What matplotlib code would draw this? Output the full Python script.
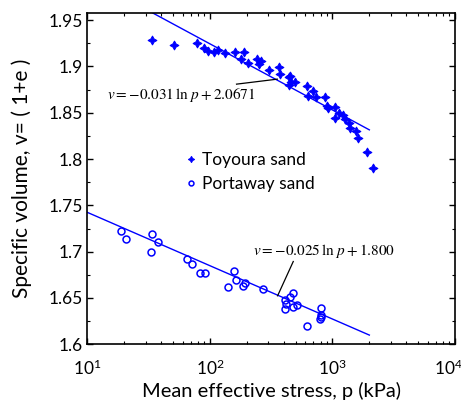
import numpy as np
import matplotlib
matplotlib.use("Agg")
import matplotlib.pyplot as plt
import matplotlib.transforms as mtransforms
from matplotlib.ticker import MultipleLocator, LogLocator, NullFormatter

plt.rcParams['font.family'] = ['Lato', 'DejaVu Sans']

# Toyoura sand: mean effective stress p (kPa), specific volume v
toy_p = [33.5, 50.7, 78, 89.5, 96.6, 108.7, 117, 132, 160, 179.6, 191, 206, 241, 253, 260,
         302, 366, 371, 439, 450, 439, 459, 494, 615, 635, 693, 733, 869, 907, 919, 1054,
         1054, 1136, 1210, 1271, 1355, 1390, 1556, 1624, 1910, 2151]
toy_v = [1.928, 1.923, 1.925, 1.920, 1.917, 1.915, 1.918, 1.9145, 1.916, 1.908, 1.915, 1.904,
         1.908, 1.9025, 1.906, 1.896, 1.899, 1.892, 1.888, 1.8894, 1.880, 1.883, 1.8832, 1.879,
         1.868, 1.8732, 1.867, 1.8667, 1.8577, 1.855, 1.856, 1.8444, 1.8495, 1.8476, 1.8437,
         1.8387, 1.8333, 1.8307, 1.8232, 1.808, 1.7908]

# Portaway sand
port_p = [18.9, 20.8, 33.7, 33.1, 37.5, 65.5, 71.5, 83.6, 90.7, 139.7, 157, 164, 185, 193,
          270, 412, 418, 412, 453, 479, 476, 513, 619, 811, 802, 795, 810]
port_v = [1.7225, 1.7136, 1.7196, 1.700, 1.710, 1.6923, 1.6862, 1.6765, 1.6765, 1.662, 1.6794,
          1.6689, 1.6629, 1.6661, 1.6592, 1.648, 1.6434, 1.638, 1.6506, 1.6553, 1.6408, 1.6419,
          1.6200, 1.6387, 1.6319, 1.6268, 1.630]

# fitted lines v = a ln p + b
toy_fit = (-0.031, 2.0671)
port_fit = (-0.025, 1.800)
toy_range = [30, 2000]
port_range = [10, 2000]

x_ticks = [10, 100, 1000, 10000]
x_labels = [r'$\mathdefault{10^{1}}$', r'$\mathdefault{10^{2}}$',
            r'$\mathdefault{10^{3}}$', r'$\mathdefault{10^{4}}$']
y_ticks = [1.6, 1.65, 1.7, 1.75, 1.8, 1.85, 1.9, 1.95]
y_labels = ['1.6', '1.65', '1.7', '1.75', '1.8', '1.85', '1.9', '1.95']

fig = plt.figure(figsize=(4.61, 4.07), dpi=100)
ax = fig.add_axes([0.1894, 0.154, 0.7976, 0.815])

blue = '#0000ff'
pt = np.geomspace(toy_range[0], toy_range[1], 100)
ax.plot(pt, toy_fit[0] * np.log(pt) + toy_fit[1], color=blue, lw=1.0)
pp = np.geomspace(port_range[0], port_range[1], 100)
ax.plot(pp, port_fit[0] * np.log(pp) + port_fit[1], color=blue, lw=1.0)

ax.plot(toy_p, toy_v, linestyle='none', marker=(4, 1, 0), markersize=6.5, color=blue,
        markeredgewidth=0.7, label='Toyoura sand')
ax.plot(port_p, port_v, linestyle='none', marker='o', markersize=5, markerfacecolor='none',
        markeredgecolor=blue, markeredgewidth=1.1, label='Portaway sand')

ax.set_xscale('log')
ax.set_xlim(10, 10000)
ax.set_ylim(1.6, 1.958)
ax.set_yticks(y_ticks)
ax.set_yticklabels(y_labels)
ax.yaxis.set_minor_locator(MultipleLocator(0.025))
ax.set_xticks(x_ticks)
ax.set_xticklabels(x_labels)
ax.xaxis.set_minor_locator(LogLocator(base=10, subs=np.arange(2, 10), numticks=20))
ax.xaxis.set_minor_formatter(NullFormatter())

ax.tick_params(which='both', direction='in', top=True, right=True, labelsize=12.5, colors='black')
ax.tick_params(which='major', length=4, width=1.0)
ax.tick_params(which='minor', length=2.5, width=0.8)
ax.tick_params(axis='y', pad=3)
ax.tick_params(axis='x', pad=10)
for s in ax.spines.values():
    s.set_linewidth(1.2)

# nudge the 10^4 label left so it stays inside the figure
last = ax.xaxis.get_major_ticks()[-1].label1
last.set_transform(last.get_transform() + mtransforms.ScaledTranslation(-7 / 100, 0, fig.dpi_scale_trans))

ax.set_xlabel('Mean effective stress, p (kPa)', fontsize=14.5, labelpad=3)
ax.set_ylabel('Specific volume, v= ( 1+e )', fontsize=15, labelpad=12)

# equation annotations
ax.text(14.5, 1.8695, r'$v = -0.031\,\ln\,p + 2.0671$', fontsize=11, math_fontfamily='stix',
        va='center', ha='left')
ax.plot([165, 355], [1.8808, 1.8862], color='black', lw=0.9)
ax.text(223, 1.701, r'$v = -0.025\,\ln\,p + 1.800$', fontsize=11, math_fontfamily='stix',
        va='center', ha='left')
ax.plot([479, 357], [1.6894, 1.6524], color='black', lw=0.9)

ax.legend(loc='center left', bbox_to_anchor=(0.27, 0.52), frameon=False, fontsize=12.5,
          handlelength=0.5, handletextpad=0.4, borderpad=0, borderaxespad=0,
          labelspacing=0.45, markerscale=0.7)

fig.savefig('out.png', dpi=100)
